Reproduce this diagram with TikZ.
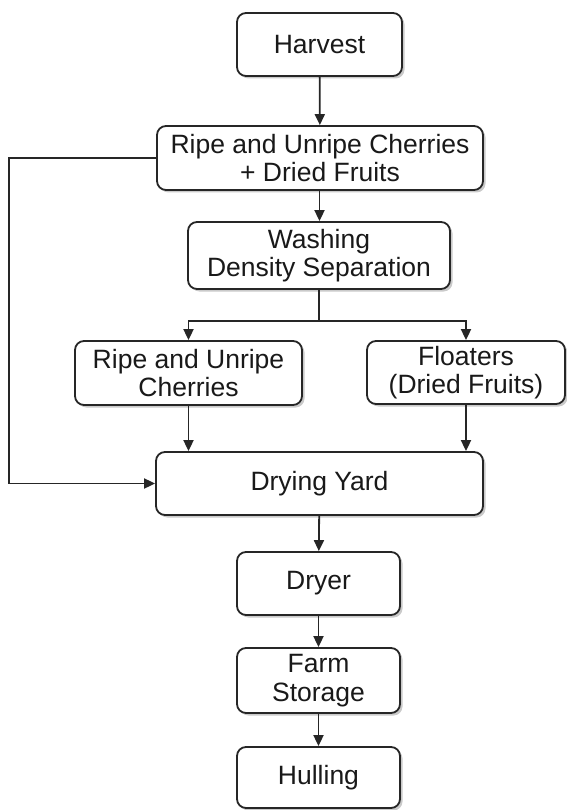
\documentclass[tikz,border=0pt]{standalone}
\usepackage{fontspec}
\setmainfont{Liberation Sans}
\usetikzlibrary{arrows.meta,shadows}
\begin{document}
\begin{tikzpicture}[x=1pt,y=1pt,
  box/.style={draw=black!85, line width=1.8pt, rounded corners=9pt, fill=white,
    drop shadow={shadow xshift=2.5pt, shadow yshift=-2.5pt, opacity=0.35, fill=black!60},
    align=center, inner sep=0pt, font=\fontsize{26.5}{28.5}\selectfont, text=black!90},
  flow/.style={draw=black!85, line width=1.8pt, -{Triangle[length=11pt,width=10pt]}},
  plain/.style={draw=black!85, line width=1.8pt}]
\useasboundingbox (0,0) rectangle (566,-810);
\node[box, minimum width=165pt, minimum height=63pt] (harvest) at (319.5,-44.5) {Harvest};
\node[box, minimum width=326pt, minimum height=64pt] (mixed) at (320,-158) {Ripe and Unripe Cherries\\+ Dried Fruits};
\node[box, minimum width=262pt, minimum height=67pt] (wash) at (319,-255.5) {Washing\\Density Separation};
\node[box, minimum width=227pt, minimum height=64pt] (ripe) at (188.5,-373) {Ripe and Unripe\\Cherries};
\node[box, minimum width=198pt, minimum height=63pt] (float) at (466,-372.5) {Floaters\\(Dried Fruits)};
\node[box, minimum width=327pt, minimum height=63pt] (yard) at (319.5,-483.5) {Drying Yard};
\node[box, minimum width=163pt, minimum height=63pt] (dryer) at (318.5,-583.5) {Dryer};
\node[box, minimum width=163pt, minimum height=65pt] (farm) at (318.5,-680.5) {Farm\\Storage};
\node[box, minimum width=163pt, minimum height=61pt] (hull) at (318.5,-777.5) {Hulling};
\coordinate (split) at (319,-321);
\coordinate (byp) at (9,0);
\draw[flow] (harvest) -- (mixed);
\draw[flow] (mixed.south -| harvest) -- (wash.north -| harvest);
\draw[plain] (wash.south) -- (split);
\draw[flow] (split) -| (ripe.north);
\draw[flow] (split) -| (float.north);
\draw[flow] (ripe.south) -- (ripe.south |- yard.north);
\draw[flow] (float.south) -- (float.south |- yard.north);
\draw[flow] (mixed.west) -- (mixed.west -| byp) |- (yard.west);
\draw[flow] (yard) -- (dryer);
\draw[flow] (dryer) -- (farm);
\draw[flow] (farm) -- (hull);
\end{tikzpicture}
\end{document}
